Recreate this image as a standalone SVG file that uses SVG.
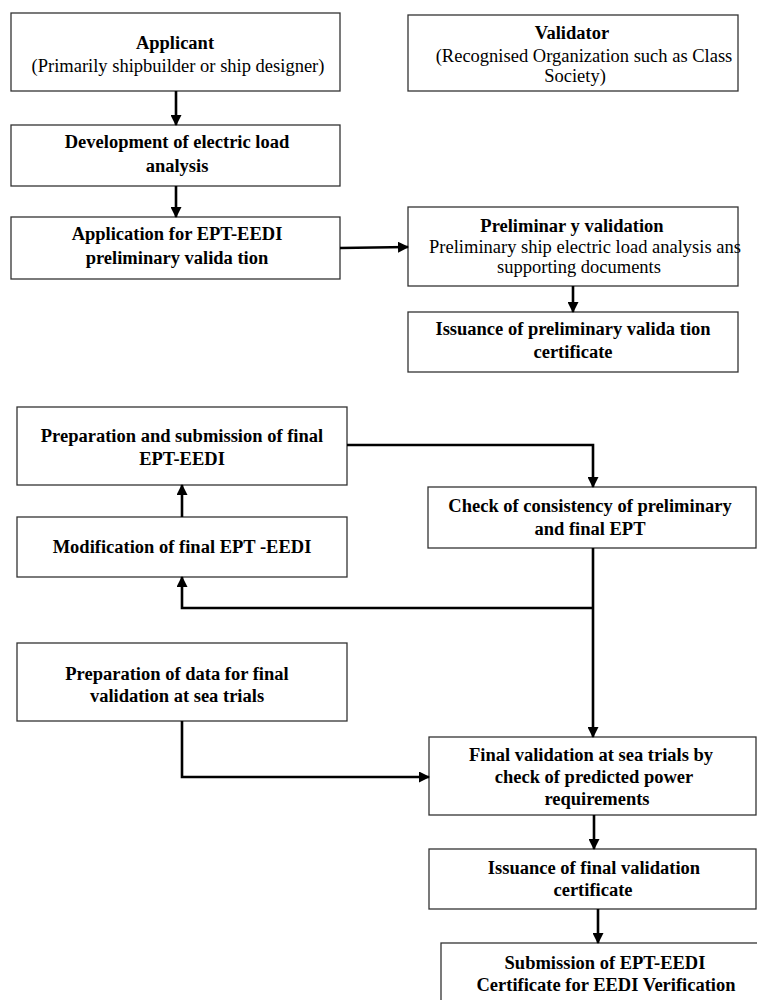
<svg xmlns="http://www.w3.org/2000/svg" width="757" height="1000" viewBox="0 0 757 1000">
<defs>
<marker id="ah" markerUnits="userSpaceOnUse" markerWidth="11" markerHeight="11" refX="10" refY="5.5" orient="auto">
<path d="M0,0 L11,5.5 L0,11 z" fill="#000"/>
</marker>
<style>
.box{fill:#fff;stroke:#333;stroke-width:1.3}
.t{font-size:18.5px;text-anchor:middle;fill:#000}
.b{font-weight:bold}
.c{fill:none;stroke:#000;stroke-width:2.6}
</style>
</defs>
<rect width="757" height="1000" fill="#fff"/>
<g font-family="'Liberation Serif', 'DejaVu Serif', serif">
<g id="applicant">
<rect class="box" x="11" y="13" width="329" height="78"/>
<text class="t b" x="175" y="49">Applicant</text>
<text class="t" x="178" y="72">(Primarily shipbuilder or ship designer)</text>
</g>
<g id="development">
<rect class="box" x="11" y="125" width="329" height="61"/>
<text class="t b" x="177" y="148">Development of electric load</text>
<text class="t b" x="177" y="172">analysis</text>
</g>
<g id="application">
<rect class="box" x="11" y="217" width="329" height="62"/>
<text class="t b" x="177" y="240">Application for EPT-EEDI</text>
<text class="t b" x="177" y="264">preliminary valida tion</text>
</g>
<g id="validator">
<rect class="box" x="408" y="15" width="330" height="76"/>
<text class="t b" x="572" y="39">Validator</text>
<text class="t" x="584" y="62">(Recognised Organization such as Class</text>
<text class="t" x="575" y="82">Society)</text>
</g>
<g id="prelim-validation">
<rect class="box" x="408" y="207" width="330" height="79"/>
<text class="t b" x="572" y="232">Preliminar y validation</text>
<text class="t" x="585" y="253">Preliminary ship electric load analysis ans</text>
<text class="t" x="579" y="273">supporting documents</text>
</g>
<g id="issuance-prelim">
<rect class="box" x="408" y="312" width="330" height="60"/>
<text class="t b" x="573" y="335">Issuance of preliminary valida tion</text>
<text class="t b" x="573" y="358">certificate</text>
</g>
<g id="prep-submission">
<rect class="box" x="17" y="407" width="330" height="78"/>
<text class="t b" x="182" y="442">Preparation and submission of final</text>
<text class="t b" x="182" y="465">EPT-EEDI</text>
</g>
<g id="modification">
<rect class="box" x="17" y="517" width="330" height="60"/>
<text class="t b" x="182" y="553">Modification of final EPT -EEDI</text>
</g>
<g id="check">
<rect class="box" x="428" y="487" width="328" height="61"/>
<text class="t b" x="590" y="512">Check of consistency of preliminary</text>
<text class="t b" x="590" y="535">and final EPT</text>
</g>
<g id="prep-data">
<rect class="box" x="17" y="643" width="330" height="78"/>
<text class="t b" x="177" y="680">Preparation of data for final</text>
<text class="t b" x="177" y="702">validation at sea trials</text>
</g>
<g id="final-validation">
<rect class="box" x="429" y="737" width="327" height="78"/>
<text class="t b" x="591" y="761">Final validation at sea trials by</text>
<text class="t b" x="594" y="783">check of predicted power</text>
<text class="t b" x="597" y="805">requirements</text>
</g>
<g id="issuance-final">
<rect class="box" x="429" y="849" width="327" height="60"/>
<text class="t b" x="594" y="874">Issuance of final validation</text>
<text class="t b" x="593" y="896">certificate</text>
</g>
<g id="submission">
<rect class="box" x="441" y="943" width="330" height="70"/>
<text class="t b" x="605" y="969">Submission of EPT-EEDI</text>
<text class="t b" x="606" y="991">Certificate for EEDI Verification</text>
</g>
</g>
<g id="connectors">
<path class="c" d="M176,91 V125" marker-end="url(#ah)"/>
<path class="c" d="M176,186 V217" marker-end="url(#ah)"/>
<path class="c" d="M340,248 L408,247" marker-end="url(#ah)"/>
<path class="c" d="M573,286 V312" marker-end="url(#ah)"/>
<path class="c" d="M347,445 H593 V487" marker-end="url(#ah)"/>
<path class="c" d="M182,517 V485" marker-end="url(#ah)"/>
<path class="c" d="M593,548 V737" marker-end="url(#ah)"/>
<path class="c" d="M593,608 H182 V577" marker-end="url(#ah)"/>
<path class="c" d="M182,721 V777 H429" marker-end="url(#ah)"/>
<path class="c" d="M594,815 V849" marker-end="url(#ah)"/>
<path class="c" d="M598,909 V943" marker-end="url(#ah)"/>
</g>
</svg>
